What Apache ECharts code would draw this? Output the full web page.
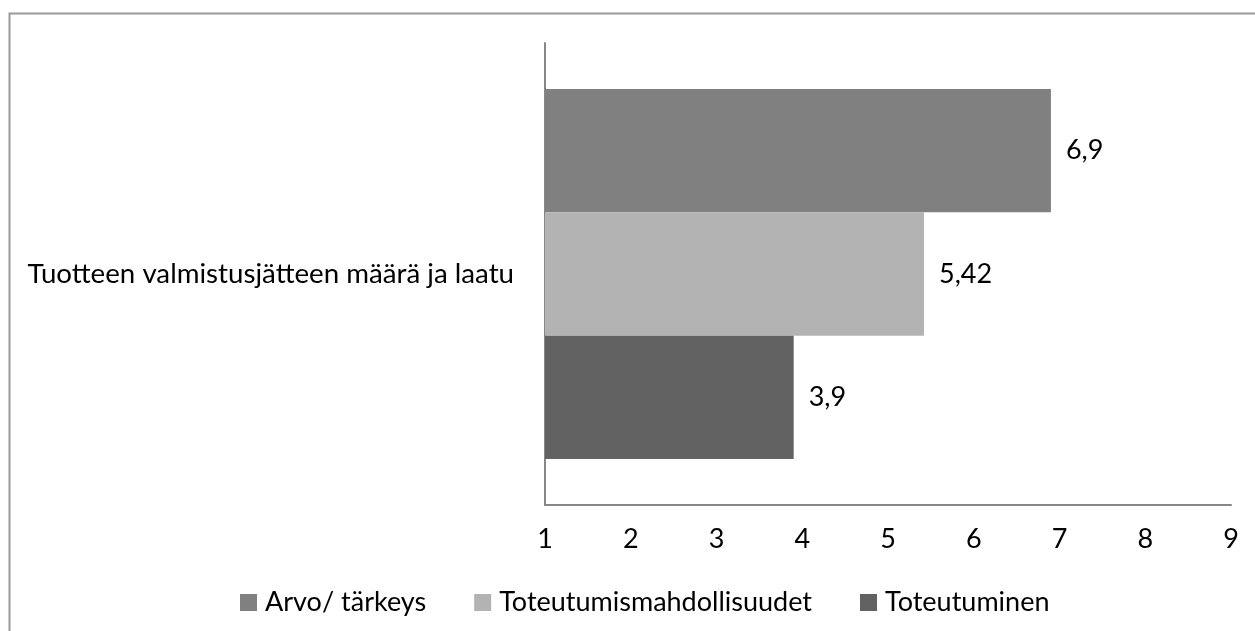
<!DOCTYPE html>
<html>
<head>
    <meta http-equiv="content-type" content="text/html; charset=utf-8">
    <title>Tuotteen valmistusjäte</title>
    <script src="https://cdn.jsdelivr.net/npm/echarts@6/dist/echarts.min.js"></script>
    <style type="text/css">
    html,body{margin:0;padding:0;background:#fff;}
    #main{width:1255px;height:631px;}
    </style>
</head>
<body>
    <div id="main"></div>
    <script>
    // data
    var categories = ['Tuotteen valmistusjätteen määrä ja laatu'];
    var seriesNames = ['Arvo/ tärkeys', 'Toteutumismahdollisuudet', 'Toteutuminen'];
    var arvo = [6.9];
    var mahdollisuudet = [5.42];
    var toteutuminen = [3.9];
    var axisMin = 1, axisMax = 9, axisStep = 1;

    var colors = ['#808080', '#b3b3b3', '#626262'];
    var font = 'Lato, "Liberation Sans", sans-serif';
    var fsize = 27;

    var chart = echarts.init(document.getElementById('main'));

    function barSeries(name, data, color){
        return {
            name: name,
            type: 'bar',
            xAxisIndex: 1,
            yAxisIndex: 1,
            data: data,
            barGap: '0%',
            barCategoryGap: '0%',
            itemStyle: {color: color},
            label: {
                show: true,
                position: 'right',
                distance: 15,
                color: '#000',
                fontFamily: font,
                fontSize: fsize,
                formatter: function(p){
                    return String(p.value).replace('.', ',');
                }
            }
        };
    }

    var option = {
        backgroundColor: '#fff',
        animation: false,
        graphic: [{
            type: 'rect',
            shape: {x: 9.5, y: 13.5, width: 1400, height: 800},
            style: {fill: 'none', stroke: '#999', lineWidth: 2},
            silent: true
        }],
        legend: {
            left: 235,
            top: 584,
            icon: 'rect',
            itemWidth: 17,
            itemHeight: 17,
            itemGap: 48,
            textStyle: {color: '#000', fontFamily: font, fontSize: fsize, padding: [0, 0, 0, 3]},
            data: seriesNames
        },
        grid: [
            // axis frame
            {left: 545, right: 24, top: 43, bottom: 126},
            // bars
            {left: 545, right: 24, top: 89, bottom: 172}
        ],
        xAxis: [
            {
                gridIndex: 0,
                type: 'value',
                min: axisMin,
                max: axisMax,
                interval: axisStep,
                axisLine: {show: true, lineStyle: {color: '#878787', width: 2}},
                axisTick: {show: false},
                splitLine: {show: false},
                axisLabel: {
                    color: '#000',
                    fontFamily: font,
                    fontSize: fsize,
                    margin: 34,
                    verticalAlign: 'middle'
                }
            },
            {
                gridIndex: 1,
                type: 'value',
                min: axisMin,
                max: axisMax,
                show: false
            }
        ],
        yAxis: [
            {
                gridIndex: 0,
                type: 'category',
                data: [''],
                axisLine: {show: true, lineStyle: {color: '#878787', width: 2}},
                axisTick: {show: false},
                axisLabel: {show: false}
            },
            {
                gridIndex: 1,
                type: 'category',
                inverse: true,
                data: categories,
                axisLine: {show: false},
                axisTick: {show: false},
                axisLabel: {
                    color: '#000',
                    fontFamily: font,
                    fontSize: 27.7,
                    margin: 31
                }
            }
        ],
        series: [
            barSeries(seriesNames[0], arvo, colors[0]),
            barSeries(seriesNames[1], mahdollisuudet, colors[1]),
            barSeries(seriesNames[2], toteutuminen, colors[2])
        ]
    };

    chart.setOption(option);
    </script>
</body>
</html>
